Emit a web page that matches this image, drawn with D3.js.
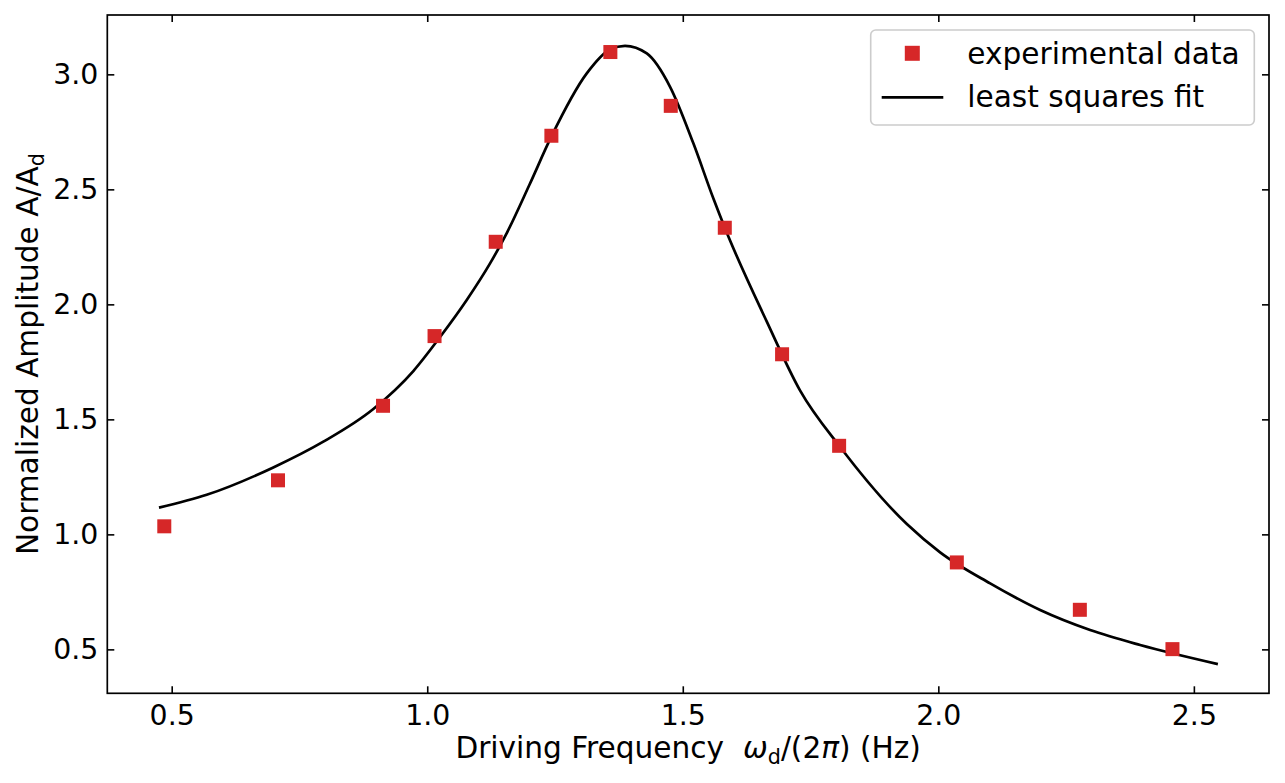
<!DOCTYPE html>
<html><head><meta charset="utf-8">
<script src="https://cdn.jsdelivr.net/npm/d3@7"></script>
<style>
body{margin:0;background:#fff}
svg text{font-family:"DejaVu Sans",sans-serif;fill:#000}
</style>
</head><body>
<svg id="c" width="1285" height="783"></svg>
<script>
// experimental data
const freqData = [0.4855, 0.708, 0.9135, 1.0143, 1.134, 1.2429, 1.3583, 1.4765, 1.5822, 1.6943, 1.8059, 2.0362, 2.2769, 2.4581];
const ampData  = [1.035, 1.235, 1.559, 1.862, 2.272, 2.733, 3.097, 2.863, 2.333, 1.783, 1.385, 0.878, 0.672, 0.501];
// least squares fit curve
const fitFreq = [0.4751, 0.5685, 0.6988, 0.7967, 0.8945, 0.9728, 1.0251, 1.0773, 1.1229, 1.1556, 1.2000, 1.2430, 1.3121, 1.3583, 1.3870, 1.4296, 1.4751, 1.5207, 1.5599, 1.5822, 1.6644, 1.7296, 1.8079, 1.9384, 2.0035, 2.1014, 2.1992, 2.2970, 2.3949, 2.5470];
const fitAmp  = [1.116, 1.172, 1.291, 1.403, 1.545, 1.710, 1.858, 2.019, 2.178, 2.310, 2.520, 2.730, 3.004, 3.109, 3.124, 3.091, 2.946, 2.700, 2.460, 2.333, 1.925, 1.625, 1.380, 1.045, 0.922, 0.787, 0.671, 0.584, 0.519, 0.436];
const xTicks = [0.5, 1.0, 1.5, 2.0, 2.5];
const yTicks = [0.5, 1.0, 1.5, 2.0, 2.5, 3.0];
const legendLabels = ["experimental data", "least squares fit"];

const svg = d3.select("#c");
const L = 107.3, R = 1269, T = 15, B = 693.3;
const x = d3.scaleLinear().domain([0.374, 2.647]).range([L, R]);
const y = d3.scaleLinear().domain([0.309, 3.258]).range([B, T]);
const red = "#d62728";
const fsTick = 28.4, fs = 29.6;

// axes
const fmt = d3.format(".1f");
const gx = svg.append("g").attr("transform", `translate(0,${B})`)
  .call(d3.axisBottom(x).tickValues(xTicks).tickFormat(fmt).tickSizeInner(-7).tickSizeOuter(0).tickPadding(11.5));
const gy = svg.append("g").attr("transform", `translate(${L},0)`)
  .call(d3.axisLeft(y).tickValues(yTicks).tickFormat(fmt).tickSizeInner(-7).tickSizeOuter(0).tickPadding(9));
const gxt = svg.append("g").attr("transform", `translate(0,${T})`)
  .call(d3.axisTop(x).tickValues(xTicks).tickFormat("").tickSizeInner(-7).tickSizeOuter(0));
const gyr = svg.append("g").attr("transform", `translate(${R},0)`)
  .call(d3.axisRight(y).tickValues(yTicks).tickFormat("").tickSizeInner(-7).tickSizeOuter(0));
[gx, gy, gxt, gyr].forEach(g => {
  g.select(".domain").remove();
  g.selectAll(".tick line").attr("stroke", "#000").attr("stroke-width", 1.6);
  g.selectAll(".tick text").attr("font-size", fsTick).attr("font-family", "DejaVu Sans").attr("fill", "#000");
});

// fit line
const fit = fitFreq.map((f, i) => [f, fitAmp[i]]);
svg.append("path").datum(fit)
  .attr("fill", "none").attr("stroke", "#000").attr("stroke-width", 2.7)
  .attr("stroke-linejoin", "round").attr("stroke-linecap", "butt")
  .attr("d", d3.line().x(d => x(d[0])).y(d => y(d[1])).curve(d3.curveMonotoneX));

// markers
const ms = 14;
svg.append("g").selectAll("rect").data(freqData.map((f, i) => [f, ampData[i]])).join("rect")
  .attr("x", d => x(d[0]) - ms / 2).attr("y", d => y(d[1]) - ms / 2)
  .attr("width", ms).attr("height", ms).attr("fill", red);

// frame
svg.append("rect").attr("x", L).attr("y", T).attr("width", R - L).attr("height", B - T)
  .attr("fill", "none").attr("stroke", "#000").attr("stroke-width", 1.7);

// legend
const lg = svg.append("g");
lg.append("rect").attr("x", 870.7).attr("y", 30).attr("width", 383.6).attr("height", 95)
  .attr("rx", 5).attr("fill", "#fff").attr("fill-opacity", 0.8).attr("stroke", "#cccccc").attr("stroke-width", 1.6);
lg.append("rect").attr("x", 912.3 - 7.5).attr("y", 53.3 - 7.5).attr("width", 15).attr("height", 15).attr("fill", red);
lg.append("line").attr("x1", 881.7).attr("x2", 943.3).attr("y1", 97.3).attr("y2", 97.3)
  .attr("stroke", "#000").attr("stroke-width", 2.7);
lg.append("text").attr("x", 967.3).attr("y", 64).attr("font-size", fs).text(legendLabels[0]);
lg.append("text").attr("x", 967.3).attr("y", 107).attr("font-size", fs).text(legendLabels[1]);

// x label
const xl = svg.append("text").attr("x", (L + R) / 2).attr("y", 758).attr("text-anchor", "middle")
  .attr("font-size", fs).style("white-space", "pre");
xl.append("tspan").text("Driving Frequency  ");
xl.append("tspan").attr("font-style", "italic").text("ω");
xl.append("tspan").attr("font-size", fs * 0.7).attr("dy", 6).text("d");
xl.append("tspan").attr("dy", -6).text("/(2");
xl.append("tspan").attr("font-style", "italic").text("π");
xl.append("tspan").text(") (Hz)");

// y label
const yl = svg.append("text").attr("transform", `translate(38,${(T + B) / 2}) rotate(-90)`)
  .attr("text-anchor", "middle").attr("font-size", fs);
yl.append("tspan").text("Normalized Amplitude A/A");
yl.append("tspan").attr("font-size", fs * 0.7).attr("dy", 6).text("d");
</script>
</body></html>
